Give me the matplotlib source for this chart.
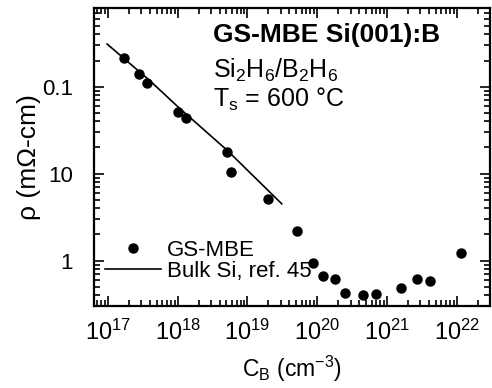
import matplotlib
matplotlib.use('Agg')
import matplotlib.pyplot as plt
from matplotlib.lines import Line2D
from matplotlib.ticker import FixedLocator, FixedFormatter, LogLocator, NullFormatter

plt.rcParams['font.family'] = ['Liberation Sans', 'DejaVu Sans']
plt.rcParams['mathtext.fontset'] = 'custom'
plt.rcParams['mathtext.rm'] = 'Liberation Sans'
plt.rcParams['mathtext.it'] = 'Liberation Sans:italic'
plt.rcParams['mathtext.bf'] = 'Liberation Sans:bold'

# GS-MBE measurements
cb_gsmbe = [1.7e17, 2.8e17, 3.6e17, 1.0e18, 1.3e18, 5.1e18, 5.8e18, 2.0e19, 5.1e19,
            8.7e19, 1.2e20, 1.8e20, 2.5e20, 4.5e20, 7.0e20, 1.6e21, 2.7e21, 4.1e21, 1.15e22]
rho_gsmbe = [214, 141, 111, 51.8, 44.2, 17.6, 10.4, 5.1, 2.2,
             0.95, 0.67, 0.61, 0.42, 0.40, 0.41, 0.48, 0.62, 0.58, 1.23]

# bulk Si reference curve
cb_bulk = [9.7e16, 4.0e17, 1.0e18, 5.1e18, 3.1e19]
rho_bulk = [310, 117, 59, 18.6, 4.5]

ytick_vals = [1, 10, 100]
ytick_labels = ['1', '10', '0.1']

fig = plt.figure(figsize=(4.92, 3.88), dpi=100)
ax = fig.add_axes([0.191, 0.211, 0.805, 0.768])

ax.plot(cb_bulk, rho_bulk, '-', color='black', lw=1.2)
ax.plot(cb_gsmbe, rho_gsmbe, 'o', color='black', ms=6.5, mec='black')

ax.set_xscale('log')
ax.set_yscale('log')
ax.set_xlim(6.3e16, 3e22)
ax.set_ylim(0.3, 800)

ax.xaxis.set_major_locator(FixedLocator([1e17, 1e18, 1e19, 1e20, 1e21, 1e22]))
ax.xaxis.set_minor_locator(LogLocator(base=10, subs=range(2, 10), numticks=20))
ax.xaxis.set_minor_formatter(NullFormatter())
ax.yaxis.set_major_locator(FixedLocator(ytick_vals))
ax.yaxis.set_major_formatter(FixedFormatter(ytick_labels))
ax.yaxis.set_minor_locator(LogLocator(base=10, subs=range(2, 10), numticks=20))
ax.yaxis.set_minor_formatter(NullFormatter())

ax.tick_params(which='both', direction='in', top=True, right=True, width=1.2)
ax.tick_params(which='major', length=7)
ax.tick_params(which='minor', length=4)
ax.tick_params(axis='x', labelsize=17, pad=10)
ax.tick_params(axis='y', labelsize=16, pad=15)
for s in ax.spines.values():
    s.set_linewidth(1.6)

ax.set_xlabel('C$_\\mathregular{B}$ (cm$^\\mathregular{-3}$)', fontsize=16.5, labelpad=6)
ax.set_ylabel('\u03c1 (m\u03a9-cm)', fontsize=19, labelpad=1)

ax.text(0.30, 0.886, 'GS-MBE Si(001):B', transform=ax.transAxes, fontsize=19,
        fontweight='bold', ha='left', va='baseline')
ax.text(0.30, 0.765, 'Si$_\\mathregular{2}$H$_\\mathregular{6}$/B$_\\mathregular{2}$H$_\\mathregular{6}$',
        transform=ax.transAxes, fontsize=18, ha='left', va='baseline')
ax.text(0.30, 0.668, 'T$_\\mathregular{s}$ = 600 \u00b0C', transform=ax.transAxes,
        fontsize=18, ha='left', va='baseline')

handles = [Line2D([], [], ls='none', marker='o', color='black', ms=6.5),
           Line2D([], [], ls='-', color='black', lw=1.2)]
ax.legend(handles, ['GS-MBE', 'Bulk Si, ref. 45'], loc='center left',
          bbox_to_anchor=(0.028, 0.152), frameon=False, fontsize=16,
          handlelength=2.5, handletextpad=0.3, labelspacing=0.0,
          borderaxespad=0, borderpad=0)

fig.savefig('out.png', dpi=100)
